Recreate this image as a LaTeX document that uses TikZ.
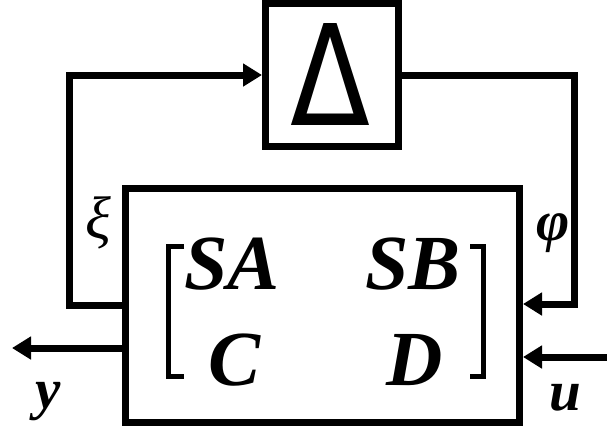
\documentclass[tikz,border=0pt]{standalone}
\usepackage{fontspec}
\usepackage{graphicx}
\setmainfont{Liberation Serif}
\newfontfamily\deltafont{DejaVu Sans}
\usetikzlibrary{arrows.meta}
\begin{document}
\begin{tikzpicture}[x=1pt,y=-1pt,
  blk/.style={draw, line width=7pt, inner sep=0pt, outer sep=3.5pt},
  wire/.style={draw, line width=7pt, line join=miter},
  arr/.style={wire, -{Triangle[length=19pt,width=22pt]}},
  lbl/.style={inner sep=0pt, font=\fontsize{57}{60}\selectfont\bfseries\itshape},
  ent/.style={inner sep=0pt, font=\fontsize{78}{80}\selectfont\bfseries\itshape},
  brk/.style={draw, line width=5pt, line join=miter}]
\useasboundingbox (0,0) rectangle (607,432);
\node[blk, minimum width=133pt, minimum height=142.5pt] (delta) at (332,74.75) {};
\node[inner sep=0pt, font=\fontsize{100}{100}\selectfont\deltafont] (deltasym) at (330,74) {\resizebox{80pt}{102pt}{Δ}};
\node[blk, minimum width=394pt, minimum height=234.5pt] (main) at (322.5,305.25) {};
\coordinate (yend) at (12,348);
\coordinate (ustart) at (607,357);
\draw[arr] (main.west |- 0,305) -- (69,305) -- (69,75) -- (delta.west |- 0,75);
\draw[arr] (delta.east |- 0,75) -- (574.5,75) -- (574.5,304) -- (main.east |- 0,304);
\draw[arr] (main.west |- 0,348) -- (yend);
\draw[arr] (ustart) -- (main.east |- 0,357);
\draw[brk] (184,246) -- (168,246) -- (168,376) -- (184,376);
\draw[brk] (470,246) -- (483,246) -- (483,376) -- (470,376);
\node[ent] (sa) at (232,264) {SA};
\node[ent] (sb) at (413,264) {SB};
\node[ent] (c) at (235,360) {C};
\node[ent] (d) at (415,360) {D};
\node[lbl, font=\fontsize{60}{62}\selectfont\itshape] (xi) at (98,223) {ξ};
\node[lbl] (phi) at (553,233) {φ};
\node[lbl] (y) at (48,402) {y};
\node[lbl] (u) at (565,398) {u};
\end{tikzpicture}
\end{document}
